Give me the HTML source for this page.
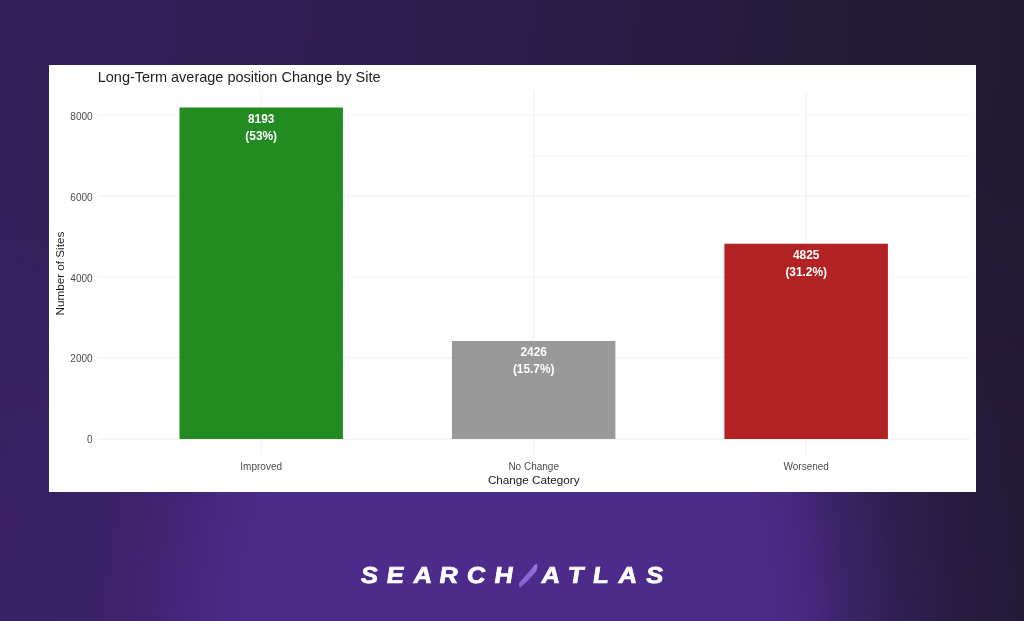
<!DOCTYPE html>
<html lang="en">
<head>
<meta charset="utf-8">
<title>Long-Term average position Change by Site</title>
<style>
  html, body { margin: 0; padding: 0; }
  body {
    width: 1024px; height: 621px; overflow: hidden; position: relative;
    font-family: "Liberation Sans", sans-serif;
    background: linear-gradient(94deg, #351f5c 0%, #321f57 22%, #2b1d49 50%, #251b3a 76%, #211932 100%);
  }
  #glow {
    position: absolute; left: 0; top: 0; width: 1024px; height: 621px;
    background:
      radial-gradient(ellipse 560px 820px at 508px 660px,
        rgba(76,43,139,1) 0%, rgba(76,43,139,1) 47%, rgba(76,43,139,0.80) 55%,
        rgba(76,43,139,0.52) 63%, rgba(76,43,139,0.33) 73%, rgba(76,43,139,0.23) 82%,
        rgba(76,43,139,0.17) 91%, rgba(76,43,139,0.12) 100%) 0 0 / 508px 621px no-repeat,
      radial-gradient(ellipse 520px 820px at 0px 660px,
        rgba(76,43,139,1) 0%, rgba(76,43,139,1) 50%, rgba(76,43,139,0.88) 57%,
        rgba(76,43,139,0.56) 66%, rgba(76,43,139,0.31) 76%, rgba(76,43,139,0.16) 86%,
        rgba(76,43,139,0.08) 97%, rgba(76,43,139,0.06) 100%) 508px 0 / 516px 621px no-repeat;
    -webkit-mask-image: linear-gradient(to bottom, rgba(0,0,0,0) 110px, rgba(0,0,0,1) 430px);
            mask-image: linear-gradient(to bottom, rgba(0,0,0,0) 110px, rgba(0,0,0,1) 430px);
  }
  #card {
    position: absolute; left: 49px; top: 64.7px; width: 926.5px; height: 427.5px;
    background: #ffffff;
  }
  svg { position: absolute; left: 0; top: 0; }
  svg text { font-family: "Liberation Sans", sans-serif; }
  .tick { font-size: 10px; fill: #4d4d4d; }
  .axt  { font-size: 11.7px; fill: #1a1a1a; }
  .ttl  { font-size: 14.5px; fill: #222222; }
  .val  { font-size: 11.9px; font-weight: bold; fill: #ffffff; text-anchor: middle; }
  .logo { font-size: 23px; font-weight: bold; font-style: italic; fill: #ffffff; stroke: #ffffff; stroke-width: 0.7px; stroke-linejoin: miter; }
</style>
</head>
<body>
<div id="glow"></div>
<div id="card"></div>
<svg width="1024" height="621" viewBox="0 0 1024 621">
  <!-- minor gridlines -->
  <g stroke="#fafafa" stroke-width="0.7">
    <line x1="97.7" x2="969.7" y1="398.3" y2="398.3"/>
    <line x1="97.7" x2="969.7" y1="317.4" y2="317.4"/>
    <line x1="97.7" x2="969.7" y1="236.5" y2="236.5"/>
    <line x1="97.7" x2="969.7" y1="155.6" y2="155.6"/>
    <line x1="533.7" x2="969.7" y1="155.9" y2="155.9" stroke="#eeeeee" stroke-width="0.9"/>
  </g>
  <!-- major gridlines -->
  <g stroke="#eeeeee" stroke-width="1">
    <line x1="97.7" x2="969.7" y1="439.0" y2="439.0"/>
    <line x1="97.7" x2="969.7" y1="357.9" y2="357.9"/>
    <line x1="97.7" x2="969.7" y1="277.0" y2="277.0" stroke="#f3f3f3"/>
    <line x1="97.7" x2="969.7" y1="196.0" y2="196.0"/>
    <line x1="97.7" x2="969.7" y1="115.1" y2="115.1" stroke="#f3f3f3"/>
    <line y1="90.7" y2="455.4" x1="261.2" x2="261.2"/>
    <line y1="90.7" y2="455.4" x1="533.7" x2="533.7"/>
    <line y1="90.7" y2="455.4" x1="806.2" x2="806.2"/>
  </g>
  <!-- bars -->
  <rect x="179.5" y="107.5" width="163.4" height="331.5" fill="#228b22"/>
  <rect x="451.9" y="341.0" width="163.5" height="98.0" fill="#999999"/>
  <rect x="724.4" y="243.7" width="163.5" height="195.3" fill="#b22222"/>
  <!-- value labels -->
  <text class="val" x="261.2" y="122.6">8193</text>
  <text class="val" x="261.2" y="139.9">(53%)</text>
  <text class="val" x="533.7" y="356.1">2426</text>
  <text class="val" x="533.7" y="373.4">(15.7%)</text>
  <text class="val" x="806.2" y="258.9">4825</text>
  <text class="val" x="806.2" y="276.2">(31.2%)</text>
  <!-- y ticks -->
  <g class="tick" text-anchor="end">
    <text x="92.6" y="443.3">0</text>
    <text x="92.6" y="362.4">2000</text>
    <text x="92.6" y="281.5">4000</text>
    <text x="92.6" y="200.5">6000</text>
    <text x="92.6" y="119.6">8000</text>
  </g>
  <!-- x ticks -->
  <g class="tick" text-anchor="middle">
    <text x="261.2" y="469.6">Improved</text>
    <text x="533.7" y="469.6">No Change</text>
    <text x="806.2" y="469.6">Worsened</text>
  </g>
  <!-- axis titles -->
  <text class="axt" text-anchor="middle" x="533.7" y="483.7">Change Category</text>
  <text class="axt" text-anchor="middle" transform="translate(64.2 273.6) rotate(-90)">Number of Sites</text>
  <!-- title -->
  <text class="ttl" x="97.7" y="82.4">Long-Term average position Change by Site</text>
  <!-- logo -->
  <g class="logo" transform="translate(0 583.3) skewX(3.5) scale(1.12 1)">
    <text y="0" x="322.63 345.45 369.46 392.72 417.14 441.65">SEARCH</text>
    <text y="0" x="483.79 507.63 529.64 552.37 577.19">ATLAS</text>
  </g>
  <defs>
    <linearGradient id="slashfill" x1="537" y1="564" x2="520" y2="587" gradientUnits="userSpaceOnUse">
      <stop offset="0" stop-color="#9c7ce8"/>
      <stop offset="0.35" stop-color="#8d68d8"/>
      <stop offset="1" stop-color="#8560cf"/>
    </linearGradient>
  </defs>
  <path d="M536.5,563.9 L537.4,565.3 L537.0,569.3 L535.9,571.8 L531.7,576.6 L526.6,581.7 L521.5,586.5 L519.9,587.7 L519.0,586.2 L519.0,583.1 L522.1,579.4 L526.6,574.6 L531.7,568.7 L534.5,565.0 Z" fill="url(#slashfill)"/>
</svg>
</body>
</html>
